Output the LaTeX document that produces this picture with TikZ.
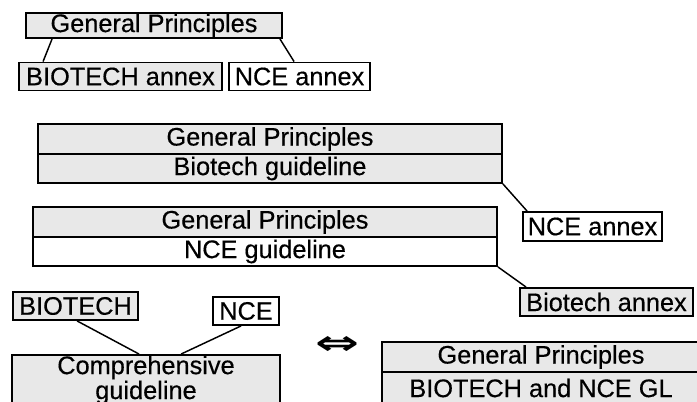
\documentclass[tikz,border=0pt]{standalone}
\usepackage{fontspec}
\usepackage{graphicx}
\setmainfont{Liberation Sans}[FakeBold=0.4]
\newfontfamily\symbfont{DejaVu Sans Bold}
\usetikzlibrary{calc}
\begin{document}
\begin{tikzpicture}[x=0.75pt,y=-0.75pt,
  sz/.style 2 args={minimum width=#1*0.75pt, minimum height=#2*0.75pt},
  boxw/.style={draw=black, line width=1.4pt, fill=white, inner sep=0pt, font=\fontsize{19}{21}\selectfont},
  boxg/.style={boxw, fill=black!9},
  conn/.style={line width=1.1pt, draw=black}]
\clip (0,0) rectangle (697,402);
\fill[white] (0,0) rectangle (697,402);
% top group
\node[boxg, sz={256}{25}] (gp1) at (154,25.5) {General Principles};
\node[boxg, sz={203}{28}] (ba1) at (120.5,76.5) {BIOTECH annex};
\node[boxw, sz={141}{28}] (na1) at (299.5,76.5) {NCE annex};
\draw[conn] ($(gp1.south west)+(27,0)$) -- ($(ba1.north west)+(25,0)$);
\draw[conn] ($(gp1.south east)+(-3,0)$) -- ($(na1.north west)+(66,0)$);
% block 1
\node[boxg, sz={464}{30}] (b1top) at (270,139) {General Principles};
\node[boxg, sz={464}{29}] (b1bot) at (270,168.5) {Biotech guideline};
\node[boxw, sz={139}{29}] (na2) at (592.5,226.5) {NCE annex};
\draw[conn] (b1bot.south east) -- ($(na2.north west)+(5,0)$);
% block 2
\node[boxg, sz={464}{30}] (b2top) at (265,222) {General Principles};
\node[boxw, sz={464}{29}] (b2bot) at (265,251.5) {NCE guideline};
\node[boxg, sz={173}{28}] (ba2) at (606.5,302) {Biotech annex};
\draw[conn] (b2bot.south east) -- ($(ba2.north west)+(7,0)$);
% bottom left
\node[boxg, sz={125}{28}] (bt) at (75.5,306) {BIOTECH};
\node[boxw, sz={66}{28}] (nce) at (246,311) {NCE};
\node[boxg, sz={268}{60}] (comp) at (146,385) {};
\node[align=center, inner sep=0pt, font=\fontsize{19}{16}\selectfont] (compt) at (146,380) {Comprehensive\\guideline};
\draw[conn] ($(bt.south west)+(65,0)$) -- ($(comp.north west)+(128,0)$);
\draw[conn] ($(nce.south west)+(29,0)$) -- ($(comp.north west)+(170,0)$);
% equivalence
\node[inner sep=0pt] (eq) at (337,346) {\resizebox{33pt}{13.5pt}{\symbfont ⇔}};
% bottom right
\node[boxg, sz={318}{30}] (brtop) at (541,357) {General Principles};
\node[boxg, sz={318}{32}] (brbot) at (541,388) {BIOTECH and NCE GL};
\end{tikzpicture}
\end{document}
